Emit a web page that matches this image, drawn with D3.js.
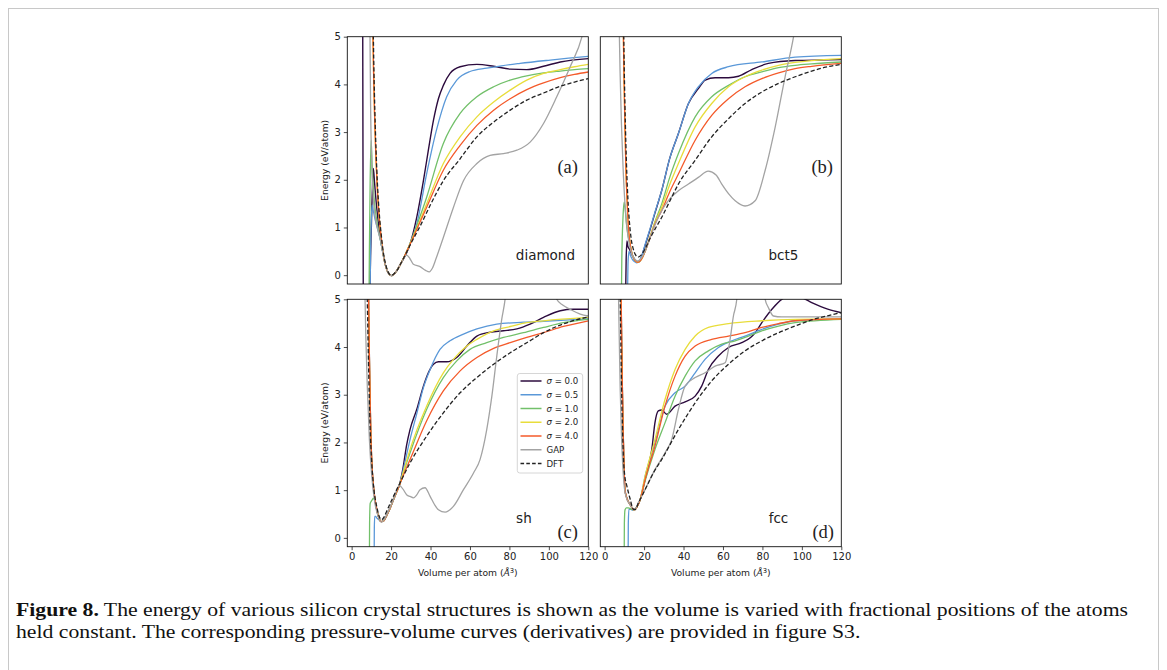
<!DOCTYPE html>
<html><head><meta charset="utf-8">
<script src="https://cdn.jsdelivr.net/npm/d3@7"></script>
<style>body{margin:0;background:#fff} svg{display:block}</style>
</head><body>
<svg id="fig" width="1167" height="670"></svg>
<script>
// ---------- tick labels / categories ----------
const xTicks = [0, 20, 40, 60, 80, 100, 120];
const yTicks = [0, 1, 2, 3, 4, 5];
const seriesKeys = ["s00", "s05", "s10", "s20", "s40", "gap", "dft"];
const seriesLabels = ["σ = 0.0", "σ = 0.5", "σ = 1.0", "σ = 2.0", "σ = 4.0", "GAP", "DFT"];
const structures = ["diamond", "bct5", "sh", "fcc"];
const panelTags = ["(a)", "(b)", "(c)", "(d)"];

// ---------- series values [volume, energy] (null = break) ----------
// diamond
const diamond_s00 = [[5.6,5.6],[5.75,2.5],[5.9,-0.5],null,[9.2,-0.5],[9.6,0.4],[10.3,1.5],[11.0,2.24],[11.6,1.95],[12.4,1.55],[13.4,1.15],[14.8,0.72],[15.8,0.48],[16.8,0.27],[17.8,0.12],[18.9,0.03],[20.2,-0.01],[21.5,0.02],[23,0.1],[25,0.25],[27.9,0.47],[29.6,0.65],[33,1.21],[36.4,1.98],[38.9,2.62],[41.5,3.25],[44,3.7],[46.5,3.98],[49.9,4.23],[55,4.37],[63.5,4.42],[72,4.38],[80.4,4.32],[88.8,4.31],[97.3,4.38],[105.8,4.47],[120,4.54]];
const diamond_s05 = [[9.3,-0.5],[9.6,0.5],[10.0,1.2],[10.4,1.47],[11,1.35],[12,1.15],[13.3,0.95],[14.8,0.7],[15.8,0.48],[16.8,0.27],[17.8,0.12],[18.9,0.03],[20.2,-0.01],[21.5,0.02],[23,0.1],[25,0.25],[27.5,0.46],[30,0.7],[33,1.07],[38,2.12],[43,3.04],[48.2,3.74],[53.3,4.09],[60,4.27],[68.5,4.34],[76,4.39],[85.4,4.44],[100.7,4.51],[110,4.55],[120,4.59]];
const diamond_s10 = [[8.8,-0.5],[9.0,0.5],[9.4,2.0],[9.9,2.83],[10.4,2.3],[11.2,1.7],[12.2,1.3],[13.5,0.95],[14.8,0.7],[15.8,0.48],[16.8,0.27],[17.8,0.12],[18.9,0.03],[20.2,-0.01],[21.5,0.02],[23,0.1],[25,0.25],[27.5,0.46],[30,0.7],[34,1.15],[38,1.63],[46.5,2.76],[55,3.39],[63.5,3.74],[72,3.95],[80.4,4.09],[88.8,4.18],[97.3,4.24],[105.8,4.28],[113,4.31],[120,4.33]];
const diamond_s20 = [[10.7,5.3],[11.1,4.3],[11.6,3.4],[12.2,2.6],[12.9,1.9],[13.8,1.3],[14.8,0.85],[15.8,0.5],[16.8,0.27],[17.8,0.12],[18.9,0.03],[20.2,-0.01],[21.5,0.02],[23,0.1],[25,0.25],[27.5,0.46],[30,0.69],[34,1.08],[38,1.49],[46.5,2.34],[55,2.9],[63.5,3.32],[72,3.63],[80.4,3.88],[88.8,4.09],[97.3,4.23],[105.8,4.31],[113,4.37],[120,4.42]];
const diamond_s40 = [[10.7,5.3],[11.1,4.3],[11.6,3.4],[12.2,2.6],[12.9,1.9],[13.8,1.3],[14.8,0.85],[15.8,0.5],[16.8,0.27],[17.8,0.12],[18.9,0.03],[20.2,-0.01],[21.5,0.02],[23,0.1],[25,0.25],[27.5,0.46],[30,0.68],[34,1.05],[38,1.42],[46.5,2.2],[55,2.72],[63.5,3.14],[72,3.46],[80.4,3.7],[88.8,3.89],[97.3,4.03],[105.8,4.14],[113,4.21],[120,4.26]];
const diamond_gap = [[9.2,5.5],[9.6,3.6],[10.2,2.3],[11,1.6],[12,1.2],[13.3,0.95],[14.8,0.7],[15.8,0.48],[16.8,0.27],[17.8,0.12],[18.9,0.03],[20.2,-0.01],[21.5,0.02],[23,0.1],[25,0.25],[27.9,0.42],[29.5,0.35],[31.3,0.23],[34.7,0.18],[37.5,0.1],[39.4,0.07],[41,0.15],[43,0.37],[46.5,0.79],[51.6,1.42],[56.7,1.98],[63.5,2.34],[70.2,2.51],[77,2.55],[83.8,2.62],[90.5,2.79],[97.3,3.18],[104,3.74],[110.8,4.37],[116.8,5.0],[118.5,5.3]];
const diamond_dft = [[10.9,5.3],[11.3,4.3],[11.8,3.4],[12.4,2.6],[13.1,1.9],[14,1.3],[15,0.85],[16,0.5],[17,0.27],[18,0.12],[19,0.03],[20.3,0],[21.5,0.03],[23,0.1],[25,0.25],[27.5,0.45],[30,0.66],[35,1.05],[40,1.48],[46.5,1.98],[55,2.44],[63.5,2.9],[72,3.21],[80.4,3.46],[88.8,3.67],[97.3,3.82],[105.8,3.96],[113,4.05],[120,4.12]];
// bct5
const bct5_s00 = [[10.6,-0.5],[10.9,0.3],[11.3,0.72],[11.8,0.6],[12.5,0.55],[13.6,0.45],[14.6,0.37],[15.6,0.3],[16.8,0.27],[18,0.3],[19,0.42],[20.5,0.62],[23,0.95],[25.5,1.3],[28.9,1.77],[33,2.45],[37.4,2.97],[42.5,3.6],[47.5,3.91],[51,4.09],[56,4.14],[62.8,4.14],[67.9,4.17],[74.6,4.31],[83,4.44],[96.6,4.5],[120,4.52]];
const bct5_s05 = [[11.6,-0.5],[11.9,0.3],[12.4,0.5],[13.2,0.4],[14.2,0.32],[15.3,0.28],[16.3,0.26],[17.5,0.3],[19,0.43],[20.5,0.64],[23,0.97],[25.5,1.32],[28.9,1.77],[33,2.45],[37.4,2.97],[42.5,3.6],[47.5,3.95],[54.3,4.23],[62.8,4.37],[79.7,4.47],[96.6,4.57],[120,4.61]];
const bct5_s10 = [[8.5,-0.5],[8.7,0.3],[9.3,1.2],[9.9,1.53],[10.4,1.4],[11,1.1],[11.8,0.85],[12.8,0.65],[13.6,0.5],[14.6,0.37],[15.6,0.3],[16.8,0.27],[18,0.3],[19.5,0.4],[21,0.56],[23,0.8],[25.5,1.12],[28.9,1.49],[33,2.05],[37.4,2.55],[45.9,3.32],[54.3,3.74],[62.8,3.98],[71.2,4.16],[79.7,4.26],[88.2,4.35],[96.6,4.4],[105,4.43],[120,4.47]];
const bct5_s20 = [[9.4,5.3],[9.8,4.2],[10.3,3.1],[10.8,2.2],[11.4,1.55],[12,1.05],[12.8,0.7],[13.6,0.5],[14.6,0.37],[15.6,0.3],[16.8,0.27],[18,0.3],[19.5,0.4],[21,0.55],[23,0.8],[25.5,1.1],[28.9,1.42],[33,1.9],[37.4,2.34],[45.9,3.11],[54.3,3.6],[62.8,3.95],[71.2,4.16],[79.7,4.3],[88.2,4.4],[96.6,4.46],[105,4.5],[120,4.54]];
const bct5_s40 = [[9.4,5.3],[9.8,4.2],[10.3,3.1],[10.8,2.2],[11.4,1.55],[12,1.05],[12.8,0.7],[13.6,0.5],[14.6,0.37],[15.6,0.3],[16.8,0.27],[18,0.3],[19.5,0.4],[21,0.55],[23,0.78],[25.5,1.07],[28.9,1.35],[33,1.75],[37.4,2.12],[45.9,2.83],[54.3,3.35],[62.8,3.7],[71.2,3.95],[79.7,4.12],[88.2,4.24],[96.6,4.33],[105,4.38],[120,4.44]];
const bct5_gap = [[7.3,5.4],[7.8,4.3],[8.5,3.2],[9.3,2.3],[10.3,1.5],[11.3,1.0],[12.5,0.65],[13.8,0.45],[15,0.35],[16.5,0.3],[18,0.33],[19.5,0.42],[21,0.55],[23,0.78],[25.5,1.05],[28.9,1.35],[33,1.6],[37.4,1.77],[42.5,1.91],[47.5,2.05],[52.5,2.18],[56.5,2.1],[59.4,1.91],[63,1.7],[66.2,1.56],[71.2,1.45],[76.3,1.56],[81.4,2.2],[86.5,3.11],[91.5,4.16],[95.8,5.0],[97,5.3]];
const bct5_dft = [[9.6,5.3],[10,4.2],[10.5,3.2],[11.1,2.3],[11.8,1.6],[12.6,1.1],[13.5,0.75],[14.5,0.55],[15.6,0.43],[17,0.38],[18.5,0.42],[20.5,0.55],[23,0.77],[26,1.0],[28.9,1.21],[33,1.55],[37.4,1.91],[45.9,2.41],[54.3,2.9],[62.8,3.28],[71.2,3.6],[79.7,3.84],[88.2,4.02],[96.6,4.16],[105,4.28],[112,4.36],[120,4.42]];
// sh
const sh_s00 = [[8.5,5.3],[8.8,4.3],[9.2,3.3],[9.6,2.4],[10.1,1.7],[10.8,1.2],[11.7,0.85],[12.7,0.6],[13.8,0.42],[15,0.34],[16.3,0.36],[17.8,0.47],[19.5,0.62],[21.2,0.8],[22.8,0.96],[24.2,1.1],[26,1.45],[27.9,1.95],[29.6,2.27],[33,2.69],[36.4,3.18],[38.9,3.46],[41.5,3.64],[44,3.69],[48.2,3.69],[53.3,3.78],[58.4,4.02],[63.5,4.23],[70.2,4.31],[77,4.34],[83.8,4.38],[90.5,4.48],[97.3,4.62],[105.8,4.76],[112.5,4.79],[120,4.79]];
const sh_s05 = [[11.4,-0.5],[11.5,0.2],[11.7,0.45],[12.2,0.45],[12.7,0.42],[13.8,0.38],[15,0.34],[16.3,0.36],[17.8,0.47],[19.5,0.62],[21.2,0.8],[22.8,0.96],[24.2,1.1],[26,1.4],[29.6,2.06],[33,2.6],[36.4,3.15],[39.8,3.53],[44.8,3.95],[49.9,4.13],[56.7,4.27],[63.5,4.38],[73.6,4.48],[87.1,4.52],[97.3,4.54],[120,4.59]];
const sh_s10 = [[9.0,-0.5],[9.1,0.3],[9.4,0.72],[10,0.77],[10.5,0.8],[11,0.83],[11.7,0.8],[12.7,0.6],[13.8,0.42],[15,0.34],[16.3,0.36],[17.8,0.47],[19.5,0.62],[21.2,0.8],[22.8,0.96],[24.2,1.1],[26.5,1.4],[29.6,1.78],[38,2.69],[46.5,3.36],[53.3,3.71],[60,3.95],[68.5,4.09],[77,4.2],[87.1,4.3],[97.3,4.41],[107.4,4.51],[120,4.58]];
const sh_s20 = [[8.5,5.3],[8.8,4.3],[9.2,3.3],[9.6,2.4],[10.1,1.7],[10.8,1.2],[11.7,0.85],[12.7,0.6],[13.8,0.42],[15,0.34],[16.3,0.36],[17.8,0.47],[19.5,0.62],[21.2,0.8],[22.8,0.96],[24.2,1.1],[26.5,1.42],[29.6,1.85],[38,2.76],[46.5,3.46],[51.6,3.74],[58.4,4.02],[63.5,4.16],[72,4.34],[80.4,4.43],[88.8,4.51],[97.3,4.55],[120,4.62]];
const sh_s40 = [[8.5,5.3],[8.8,4.3],[9.2,3.3],[9.6,2.4],[10.1,1.7],[10.8,1.2],[11.7,0.85],[12.7,0.6],[13.8,0.42],[15,0.34],[16.3,0.36],[17.8,0.47],[19.5,0.62],[21.2,0.8],[22.8,0.96],[24.2,1.1],[26.5,1.34],[29.6,1.64],[38,2.45],[46.5,3.08],[55,3.5],[63.5,3.78],[72,3.97],[80.4,4.09],[88.8,4.2],[97.3,4.3],[107.4,4.43],[120,4.55]];
const sh_gap = [[6.6,5.4],[7.2,4.2],[8,3.11],[9,2.06],[10.2,1.29],[11.8,0.73],[13.5,0.45],[15.2,0.33],[16.5,0.38],[18,0.5],[21.2,0.8],[24.2,1.1],[26.2,1.01],[28,0.9],[29.6,0.87],[31.3,0.84],[33,0.9],[34.7,1.01],[37.2,1.05],[39.8,0.87],[42,0.7],[44,0.59],[47.4,0.54],[51.6,0.66],[56.7,1.01],[61.8,1.36],[65.1,1.64],[68.5,2.27],[71.1,2.97],[73.6,3.81],[76.1,4.58],[77.8,5.0],[78.8,5.4],null,[102,5.4],[104,5.0],[107,4.88],[110.8,4.79],[115.9,4.69],[120,4.65]];
const sh_dft = [[7.8,5.3],[8.2,4.4],[8.7,3.4],[9.3,2.41],[10.2,1.57],[11.3,1.01],[12.7,0.66],[14,0.45],[15.2,0.38],[16.5,0.44],[17.8,0.56],[19.5,0.72],[21.2,0.87],[24.5,1.15],[29.6,1.57],[38,2.13],[46.5,2.62],[55,3.04],[63.5,3.36],[72,3.64],[80.4,3.88],[88.8,4.09],[97.3,4.3],[105.8,4.46],[113,4.56],[120,4.63]];
// fcc
const fcc_s00 = [[8.3,5.3],[8.6,4.2],[9,3.1],[9.4,2.2],[9.8,1.55],[10.3,1.01],[11.2,0.84],[12.9,0.7],[15,0.58],[16.5,0.66],[18,0.8],[20.5,1.22],[22.5,1.55],[23.9,1.85],[25.5,2.41],[27.2,2.66],[28.9,2.68],[31.5,2.59],[35.7,2.76],[40.8,2.85],[45.9,2.97],[49.2,3.18],[52.6,3.53],[57.7,3.81],[62.8,3.99],[69.5,4.09],[74,4.2],[76.3,4.3],[79.7,4.51],[84.8,4.79],[89.8,5.0],[93.2,5.06],[100,5.03],[105,4.93],[113.5,4.79],[120,4.72]];
const fcc_s05 = [[11.9,-0.5],[12.0,0.3],[12.3,0.6],[13.2,0.6],[14.2,0.58],[15,0.58],[16.5,0.66],[18,0.8],[20.5,1.29],[25.5,1.99],[30.6,2.76],[35.7,3.04],[40.8,3.18],[45.9,3.46],[50.9,3.74],[57.7,3.99],[64.5,4.13],[71.2,4.23],[79.7,4.37],[88.2,4.48],[96.6,4.55],[120,4.59]];
const fcc_s10 = [[9.9,-0.5],[10.0,0.3],[10.3,0.58],[11,0.63],[12,0.63],[13.5,0.6],[15,0.58],[16.5,0.66],[18,0.8],[20.5,1.19],[25.5,1.85],[30.6,2.41],[35.7,2.97],[40.8,3.39],[45.9,3.71],[52.6,3.92],[59.4,4.06],[66.2,4.13],[72.9,4.23],[79.7,4.34],[88.2,4.44],[96.6,4.51],[120,4.58]];
const fcc_s20 = [[8.3,5.3],[8.6,4.2],[9,3.1],[9.4,2.2],[9.8,1.55],[10.3,1.01],[11.2,0.84],[12.9,0.7],[15,0.58],[16.5,0.66],[18,0.8],[20.5,1.29],[25.5,2.06],[30.6,2.9],[35.7,3.53],[40.8,3.95],[45.9,4.23],[52.6,4.41],[62.8,4.49],[79.7,4.55],[96.6,4.58],[120,4.59]];
const fcc_s40 = [[8.3,5.3],[8.6,4.2],[9,3.1],[9.4,2.2],[9.8,1.55],[10.3,1.01],[11.2,0.84],[12.9,0.7],[15,0.58],[16.5,0.66],[18,0.8],[20.5,1.22],[25.5,1.92],[30.6,2.76],[35.7,3.39],[40.8,3.81],[45.9,4.02],[54.3,4.16],[62.8,4.23],[71.2,4.3],[79.7,4.41],[88.2,4.49],[96.6,4.55],[120,4.59]];
const fcc_gap = [[6.9,5.4],[7.4,4.2],[7.9,3.1],[8.5,2.2],[9.2,1.5],[10,1.05],[11,0.85],[12.9,0.7],[15,0.58],[17,0.73],[20.5,1.01],[25.5,1.43],[30.6,1.78],[34,2.06],[37.4,2.69],[40.8,3.18],[45.9,3.36],[50.9,3.46],[56,3.6],[61.1,3.67],[63.6,4.16],[65.3,4.65],[67,5.0],[67.8,5.4],null,[80.8,5.4],[81.4,5.0],[83,4.83],[85.6,4.65],[89.8,4.63],[120,4.63]];
const fcc_dft = [[7.8,5.3],[8.2,4.2],[8.6,3.11],[9.0,2.4],[9.5,1.71],[10.2,1.3],[11.2,1.1],[12.9,0.82],[14.6,0.6],[15.6,0.6],[17.1,0.73],[20.5,1.01],[24.7,1.36],[28.9,1.64],[37.4,2.27],[45.9,2.83],[54.3,3.29],[62.8,3.64],[71.2,3.92],[79.7,4.13],[88.2,4.3],[96.6,4.44],[105,4.57],[113.5,4.66],[120,4.72]];

const dataByStructure = {
  diamond: [diamond_s00, diamond_s05, diamond_s10, diamond_s20, diamond_s40, diamond_gap, diamond_dft],
  bct5:    [bct5_s00, bct5_s05, bct5_s10, bct5_s20, bct5_s40, bct5_gap, bct5_dft],
  sh:      [sh_s00, sh_s05, sh_s10, sh_s20, sh_s40, sh_gap, sh_dft],
  fcc:     [fcc_s00, fcc_s05, fcc_s10, fcc_s20, fcc_s40, fcc_gap, fcc_dft]
};

// ---------- styles ----------
const colors = ["#2c0b3e", "#5a98d8", "#72c06a", "#e8dd3b", "#f45a2a", "#a3a3a3", "#222222"];
const dashes = [null, null, null, null, null, null, "4.2,2.2"];

// ---------- layout ----------
const panels = [
  {i:0, left:347.3, right:588.3, top:36.7, bottom:284.0, showX:false, showY:true,  name:[575, 260],   tag:[578, 173]},
  {i:1, left:600.3, right:841.3, top:36.7, bottom:284.0, showX:false, showY:false, name:[798.3, 260], tag:[833, 173]},
  {i:2, left:347.3, right:588.3, top:299.3, bottom:546.7, showX:true, showY:true,  name:[531.7, 523.3], tag:[578, 537.5]},
  {i:3, left:600.3, right:841.3, top:299.3, bottom:546.7, showX:true, showY:false, name:[788.3, 523.3], tag:[834, 537.5]}
];
const xDomain = [-2.2, 120];
const yDomain = [-0.185, 5];

const svg = d3.select("#fig");
svg.append("rect").attr("x",8.5).attr("y",8.5).attr("width",1150).attr("height",700)
  .attr("fill","none").attr("stroke","#c8c8c8").attr("stroke-width",1);

const tickFont = "DejaVu Sans";
panels.forEach(p => {
  const key = structures[p.i];
  const x = d3.scaleLinear().domain(xDomain).range([p.left, p.right]);
  const y = d3.scaleLinear().domain(yDomain).range([p.bottom, p.top]);
  const g = svg.append("g");
  const clipId = "clip" + p.i;
  svg.append("clipPath").attr("id", clipId).append("rect")
    .attr("x", p.left).attr("y", p.top).attr("width", p.right - p.left).attr("height", p.bottom - p.top);
  const line = d3.line().defined(d => d !== null).x(d => x(d[0])).y(d => y(d[1])).curve(d3.curveMonotoneX);
  const lg = g.append("g").attr("clip-path", `url(#${clipId})`);
  dataByStructure[key].forEach((arr, k) => {
    lg.append("path").attr("d", line(arr)).attr("fill","none")
      .attr("stroke", colors[k]).attr("stroke-width", k === 0 ? 1.4 : 1.3)
      .attr("stroke-dasharray", dashes[k]).attr("stroke-linejoin","round");
  });
  // axes
  if (p.showY) {
    const ay = g.append("g").attr("transform", `translate(${p.left},0)`)
      .call(d3.axisLeft(y).tickValues(yTicks).tickSize(3.5).tickPadding(3).tickFormat(d3.format("d")));
    ay.select(".domain").remove();
    ay.selectAll("line").attr("stroke","#222").attr("stroke-width",0.8);
    ay.selectAll("text").attr("font-family", tickFont).attr("font-size", 10).attr("fill","#222");
    g.append("text").attr("transform", `translate(${p.left - 19.5},${(p.top + p.bottom)/2}) rotate(-90)`)
      .attr("text-anchor","middle").attr("font-family", tickFont).attr("font-size", 9.2).attr("fill","#222")
      .text("Energy (eV/atom)");
  }
  if (p.showX) {
    const ax = g.append("g").attr("transform", `translate(0,${p.bottom})`)
      .call(d3.axisBottom(x).tickValues(xTicks).tickSize(3.5).tickPadding(3).tickFormat(d3.format("d")));
    ax.select(".domain").remove();
    ax.selectAll("line").attr("stroke","#222").attr("stroke-width",0.8);
    ax.selectAll("text").attr("font-family", tickFont).attr("font-size", 10).attr("fill","#222");
    const xl = g.append("text").attr("x", (p.left + p.right)/2).attr("y", p.bottom + 29.5)
      .attr("text-anchor","middle").attr("font-family", tickFont).attr("font-size", 9.2).attr("fill","#222");
    xl.append("tspan").text("Volume per atom (");
    xl.append("tspan").attr("font-style","italic").text("Å");
    xl.append("tspan").attr("font-size", 6.8).attr("dy", -3.5).text("3");
    xl.append("tspan").attr("dy", 3.5).text(")");
  }
  // frame
  g.append("rect").attr("x", p.left).attr("y", p.top).attr("width", p.right - p.left).attr("height", p.bottom - p.top)
    .attr("fill","none").attr("stroke","#111").attr("stroke-width",0.9);
  // labels
  g.append("text").attr("x", p.name[0]).attr("y", p.name[1]).attr("text-anchor","end")
    .attr("font-family", tickFont).attr("font-size", 13.5).attr("fill","#222").text(key);
  g.append("text").attr("x", p.tag[0]).attr("y", p.tag[1]).attr("text-anchor","end")
    .attr("font-family", "Liberation Serif").attr("font-size", 18.5).attr("fill","#222").text(panelTags[p.i]);
});

// legend (in panel c)
const leg = svg.append("g");
leg.append("rect").attr("x",517.3).attr("y",373.5).attr("width",65.4).attr("height",99.5).attr("rx",2.5)
  .attr("fill","#fff").attr("fill-opacity",0.8).attr("stroke","#cccccc").attr("stroke-width",0.8);
const legRowY = d3.scalePoint().domain(seriesKeys).range([381, 463.5]);
seriesKeys.forEach((k, idx) => {
  const yy = legRowY(k);
  leg.append("line").attr("x1",520.5).attr("x2",541.5).attr("y1",yy).attr("y2",yy)
    .attr("stroke", colors[idx]).attr("stroke-width",1.5).attr("stroke-dasharray", dashes[idx] ? "3.6,2.2" : null);
  const t = leg.append("text").attr("x",546.5).attr("y",yy).attr("dy","0.35em")
    .attr("font-family", tickFont).attr("font-size", 8.6).attr("fill","#222");
  const lab = seriesLabels[idx];
  if (lab.startsWith("σ")) {
    t.append("tspan").attr("font-style","italic").text("σ");
    t.append("tspan").text(lab.slice(1));
  } else t.text(lab);
});

// caption
const capFont = "Liberation Serif";
const cap1 = svg.append("text").attr("x",16).attr("y",616).attr("font-family",capFont).attr("font-size",19).attr("fill","#111");
cap1.append("tspan").attr("font-weight","bold").text("Figure 8.");
cap1.append("tspan").text(" The energy of various silicon crystal structures is shown as the volume is varied with fractional positions of the atoms");
const cap2 = svg.append("text").attr("x",16).attr("y",638).attr("font-family",capFont).attr("font-size",19).attr("fill","#111")
  .text("held constant. The corresponding pressure-volume curves (derivatives) are provided in figure S3.");
const w1 = cap1.node().getComputedTextLength();
const w2 = cap2.node().getComputedTextLength();
const factor = 1112 / w1;
cap1.attr("textLength", 1112).attr("lengthAdjust","spacingAndGlyphs");
cap2.attr("textLength", w2 * factor).attr("lengthAdjust","spacingAndGlyphs");
</script>
</body></html>
